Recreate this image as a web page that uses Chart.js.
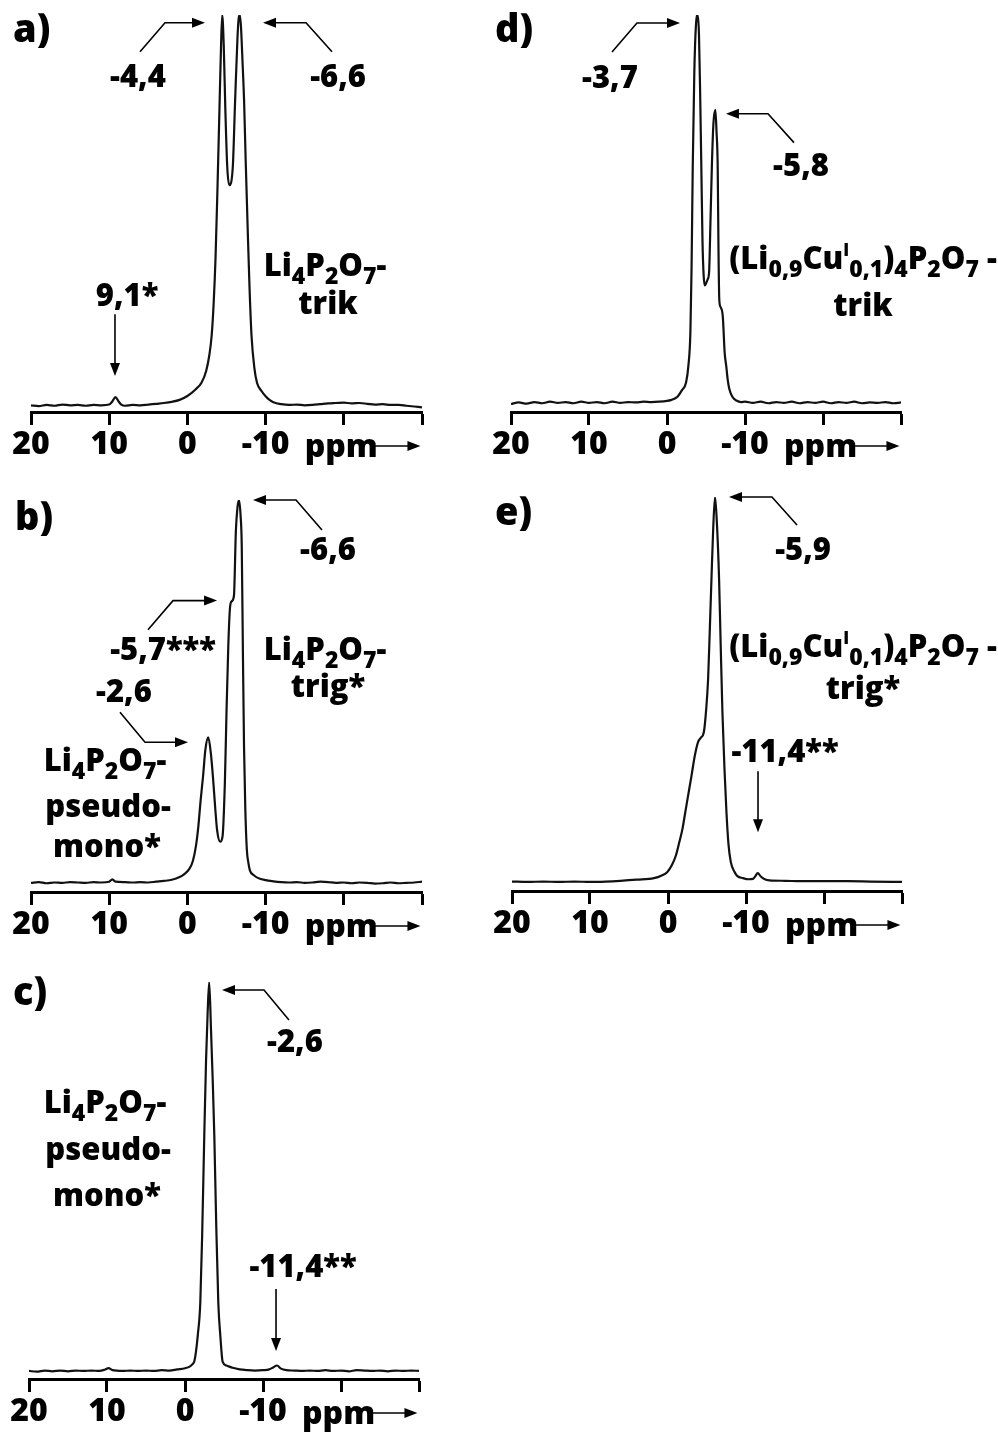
<!DOCTYPE html>
<html><head><meta charset="utf-8">
<script src="https://cdn.jsdelivr.net/npm/chart.js@4/dist/chart.umd.min.js"></script>
<style>
html,body{margin:0;padding:0;background:#fff;}
body{width:998px;height:1432px;position:relative;overflow:hidden;}
.p{position:absolute;}
</style></head><body>
<div class="p" style="left:0;top:0;"><canvas id="ca" width="490" height="475"></canvas></div>
<div class="p" style="left:490px;top:0;"><canvas id="cd" width="508" height="475"></canvas></div>
<div class="p" style="left:0;top:475px;"><canvas id="cb" width="490" height="475"></canvas></div>
<div class="p" style="left:490px;top:475px;"><canvas id="ce" width="508" height="475"></canvas></div>
<div class="p" style="left:0;top:950px;"><canvas id="cc" width="490" height="482"></canvas></div>
<script>
// ---------- DATA (chemical shift in ppm, relative intensity) ----------
const tickValues = [20, 10, 0, -10, -20, -30];
const tickLabels = ['20', '10', '0', '-10', '', ''];

const ppmA = [20,19,18,17,16,15,14,13,12,11,10,9.6,9.2,8.8,8.4,8,7,6,5,4,3,2,1,0,-1,-1.8,-2.4,-2.8,-3.1,-3.35,-3.6,-3.85,-4.1,-4.3,-4.45,-4.65,-4.85,-5.1,-5.36,-5.8,-6.1,-6.4,-6.55,-6.7,-6.85,-7.05,-7.25,-7.45,-7.7,-7.95,-8.2,-8.55,-8.9,-9.5,-10,-10.5,-11,-12,-13,-14,-15,-16,-17,-18,-19,-20,-21,-22,-23,-24,-25,-26,-27,-28,-29,-30];
const intA = [0.2,0,0.3,0.1,0.4,0.2,0.3,0.1,0.3,0.2,0.4,1.2,2.3,1.2,0.3,0.1,0.3,0.2,0.4,0.6,0.8,1.1,1.6,2.6,4.2,6,9,13,18,26,38,56,76,92,100,92,76,61,56.5,61,78,94,99,100,97,88,78,63,46,30,18,10,6,3.8,2.5,1.6,1.0,0.5,0.3,0.4,0.2,0.3,0.5,0.7,0.8,0.9,0.7,0.8,0.6,0.4,0.5,0.3,0.3,0.1,-0.1,-0.3];

const ppmB = [20,19,18,17,16,15,14,13,12,11,10,9.6,9.2,8,7,6,5,4,3,2,1,0.4,-0.2,-0.7,-1.1,-1.4,-1.7,-2.0,-2.3,-2.67,-3.0,-3.3,-3.55,-3.8,-4.2,-4.5,-4.8,-5.0,-5.23,-5.45,-5.65,-5.95,-6.2,-6.4,-6.6,-6.8,-6.95,-7.1,-7.24,-7.4,-7.6,-7.8,-8.0,-8.5,-9,-10,-11,-12,-13,-14,-15,-16,-17,-18,-19,-20,-21,-22,-23,-24,-25,-26,-27,-28,-29,-30];
const intB = [0.3,0.5,0.2,0.4,0.3,0.5,0.4,0.3,0.5,0.4,0.6,1.2,0.6,0.5,0.4,0.5,0.4,0.6,0.8,1.1,1.8,2.6,3.8,6,10,15,22,28,35,38.2,34,27,20,14,11,12.5,27,44.7,62,72,73.6,75,92,98,100,96,88,60,36,20,9,5.5,3.5,2.3,1.6,1.0,0.7,0.5,0.4,0.5,0.3,0.4,0.6,0.5,0.3,0.4,0.2,0.4,0.3,0.1,0.2,0.4,0.2,0.3,0.4,0.6];

const ppmC = [20,19,18,17,16,15,14,13,12,11,10.3,9.8,9.3,8,7,6,5,4,3,2,1,0,-0.6,-1.0,-1.2,-1.4,-1.63,-1.96,-2.2,-2.47,-2.7,-2.9,-3.1,-3.33,-3.55,-3.76,-4.0,-4.27,-4.53,-4.83,-5.3,-6.1,-7,-8,-9,-10,-10.8,-11.3,-11.8,-12.3,-13,-14,-15,-16,-17,-18,-19,-20,-21,-22,-23,-24,-25,-26,-27,-28,-29,-30];
const intC = [0.2,0,0.3,0.1,0.3,0.1,0.3,0.2,0.3,0.2,0.5,0.9,0.4,0.2,0.3,0.2,0.3,0.2,0.4,0.3,0.6,0.9,1.3,2.0,2.7,5,9.2,17.7,35,60.5,80,92,100,88,75,60.5,38,17.7,9.2,2.5,1.6,1.0,0.6,0.4,0.3,0.4,0.6,1.1,1.6,0.8,0.4,0.3,0.2,0.3,0.2,0.4,0.2,0.3,0.1,0.4,0.3,0.2,0.3,0.1,0.3,0.2,0.3,0.2];

const ppmD = [20,19,18,17,16,15,14,13,12,11,10,9,8,7,6,5,4,3,2,1,0,-0.5,-1.0,-1.4,-1.9,-2.45,-2.75,-3.0,-3.15,-3.3,-3.5,-3.7,-3.94,-4.1,-4.25,-4.4,-4.55,-4.7,-4.85,-5.0,-5.2,-5.4,-5.55,-5.75,-5.95,-6.2,-6.35,-6.5,-6.6,-6.7,-6.85,-7.15,-7.4,-7.6,-7.8,-8.0,-8.4,-8.9,-9.5,-10,-11,-12,-13,-14,-15,-16,-17,-18,-19,-20,-21,-22,-23,-24,-25,-26,-27,-28,-29,-30];
const intD = [0,0.4,0.1,0.5,0.2,0.6,0.3,0.5,0.2,0.6,0.3,0.5,0.2,0.6,0.3,0.5,0.4,0.6,0.5,0.6,0.8,1.0,1.4,2.0,3.5,5.6,10,18.5,35,61,85,97,100,95,80,61,42,33,30.5,31,32,34,45,61,72,75.6,70,61,40,27,25,22.6,13,9.7,6,3.8,1.8,0.9,0.5,0.6,0.3,0.6,0.2,0.5,0.3,0.6,0.2,0.5,0.3,0.6,0.2,0.5,0.3,0.6,0.2,0.4,0.3,0.5,0.2,0.4];

const ppmE = [20,18,16,14,12,10,8,6.1,4,1.8,0.8,0.08,-0.5,-1.0,-1.4,-1.85,-2.2,-2.5,-3.0,-3.43,-3.85,-4.2,-4.6,-4.9,-5.14,-5.35,-5.57,-5.8,-6.03,-6.25,-6.55,-6.75,-6.98,-7.25,-7.5,-7.75,-8.05,-8.5,-8.9,-9.6,-10.3,-10.9,-11.2,-11.5,-11.9,-12.4,-13,-15,-17,-20,-23,-26,-30];
const intE = [0.2,0.1,0.2,0.1,0.2,0.1,0.2,0.4,0.7,1.1,1.8,2.7,4.5,6.9,10,13.8,18,21.6,27.5,32.8,36.4,37.5,39,45,52.7,65,78.6,92,100,94,78.6,62,44,29,18,10,5.3,2.8,1.6,1.1,0.8,0.9,1.6,2.4,1.5,0.8,0.5,0.4,0.3,0.3,0.3,0.2,0.1];

// ---------- LABELS (positions in data units: ppm, intensity) ----------
const LI4 = [['Li'],['4','sub'],['P'],['2','sub'],['O'],['7','sub'],['-']];
const CU = [['(Li'],['0,9','sub'],['Cu'],['I','sup'],['0,1','sub'],[')'],['4','sub'],['P'],['2','sub'],['O'],['7','sub'],[' -']];

const annA = [
  {t:'text', x:22.3, y:93.1, parts:[['a)']], size:38, align:'left'},
  {t:'text', x:6.32, y:81.6, parts:[['-4,4']]},
  {t:'arrow', pts:[[6.06,90.6],[2.86,98],[-2.25,98]]},
  {t:'text', x:-19.26, y:81.6, parts:[['-6,6']]},
  {t:'arrow', pts:[[-18.49,90.6],[-15.17,98],[-9.67,98]]},
  {t:'text', x:-17.6, y:33.2, parts:LI4},
  {t:'text', x:-17.98, y:23.5, parts:[['trik']]},
  {t:'text', x:7.72, y:25.5, parts:[['9,1*']]},
  {t:'arrow', pts:[[9.26,23.5],[9.26,7.7]]}
];
const annD = [
  {t:'text', x:22.05, y:93.1, parts:[['d)']], size:38, align:'left'},
  {t:'text', x:7.31, y:81.3, parts:[['-3,7']]},
  {t:'arrow', pts:[[7.05,90.5],[3.85,97.95],[-1.67,97.95]]},
  {t:'text', x:-17.18, y:58.5, parts:[['-5,8']]},
  {t:'arrow', pts:[[-16.28,67.2],[-12.95,74.6],[-7.56,74.6]]},
  {t:'text', x:-25.13, y:34.6, parts:CU},
  {t:'text', x:-25.13, y:22.6, parts:[['trik']]}
];
const annB = [
  {t:'text', x:22.05, y:92.2, parts:[['b)']], size:38, align:'left'},
  {t:'text', x:-17.98, y:84.4, parts:[['-6,6']]},
  {t:'arrow', pts:[[-17.21,92.2],[-13.89,100],[-8.39,100]]},
  {t:'text', x:3.12, y:58.4, parts:[['-5,7***']]},
  {t:'arrow', pts:[[5.04,66.2],[1.84,73.8],[-3.79,73.8]]},
  {t:'text', x:8.11, y:47.3, parts:[['-2,6']]},
  {t:'arrow', pts:[[8.62,44.7],[5.42,36.9],[-0.08,36.9]]},
  {t:'text', x:-17.6, y:58.4, parts:LI4},
  {t:'text', x:-17.98, y:48.8, parts:[['trig*']]},
  {t:'text', x:10.54, y:29.35, parts:LI4},
  {t:'text', x:10.15, y:17.4, parts:[['pseudo-']]},
  {t:'text', x:10.28, y:7.0, parts:[['mono*']]}
];
const annE = [
  {t:'text', x:22.18, y:92.75, parts:[['e)']], size:38, align:'left'},
  {t:'text', x:-17.31, y:83.7, parts:[['-5,9']]},
  {t:'arrow', pts:[[-16.54,92.75],[-13.33,100],[-7.82,100]]},
  {t:'text', x:-15.0, y:31.1, parts:[['-11,4**']]},
  {t:'arrow', pts:[[-11.54,28.8],[-11.54,13.0]]},
  {t:'text', x:-25.0, y:58.6, parts:CU},
  {t:'text', x:-25.0, y:47.45, parts:[['trig*']]}
];
const annC = [
  {t:'text', x:22.05, y:94.1, parts:[['c)']], size:38, align:'left'},
  {t:'text', x:-14.1, y:82.1, parts:[['-2,6']]},
  {t:'arrow', pts:[[-13.33,90.27],[-10.13,97.95],[-4.74,97.95]]},
  {t:'text', x:10.26, y:66.5, parts:LI4},
  {t:'text', x:9.87, y:54.4, parts:[['pseudo-']]},
  {t:'text', x:10.0, y:42.4, parts:[['mono*']]},
  {t:'text', x:-15.13, y:24.2, parts:[['-11,4**']]},
  {t:'arrow', pts:[[-11.67,21.2],[-11.67,5.3]]}
];

// ---------- DRAWING ----------
const FONT = "'Open Sans', 'DejaVu Sans', sans-serif";
const W8 = '800';
const TXT = 31;

function drawRich(ctx, parts, x, y, size, align) {
  const segs = parts.map(p => ({t:p[0], k:p[1]||'', s: p[1]==='sub' ? size*0.74 : p[1]==='sup' ? size*0.55 : size}));
  let w = 0;
  segs.forEach(s => { ctx.font = `${W8} ${s.s}px ${FONT}`; s.w = ctx.measureText(s.t).width; w += s.w; });
  let cx = align === 'left' ? x : x - w/2;
  ctx.textAlign = 'left'; ctx.textBaseline = 'alphabetic'; ctx.fillStyle = '#000';
  segs.forEach(s => {
    ctx.font = `${W8} ${s.s}px ${FONT}`;
    const dy = s.k === 'sub' ? size*0.26 : s.k === 'sup' ? -size*0.42 : 0;
    ctx.fillText(s.t, cx, y + dy);
    cx += s.w;
  });
}
function drawArrow(ctx, pts, lw) {
  const n = pts.length, L = 13, W = 5;
  const [x1,y1] = pts[n-2], [x2,y2] = pts[n-1];
  const a = Math.atan2(y2-y1, x2-x1);
  ctx.strokeStyle = '#000'; ctx.fillStyle = '#000'; ctx.lineWidth = lw;
  ctx.beginPath(); ctx.moveTo(pts[0][0], pts[0][1]);
  for (let i = 1; i < n-1; i++) ctx.lineTo(pts[i][0], pts[i][1]);
  ctx.lineTo(x2 - (L-2)*Math.cos(a), y2 - (L-2)*Math.sin(a));
  ctx.stroke();
  ctx.beginPath(); ctx.moveTo(x2, y2);
  ctx.lineTo(x2 - L*Math.cos(a) + W*Math.sin(a), y2 - L*Math.sin(a) - W*Math.cos(a));
  ctx.lineTo(x2 - L*Math.cos(a) - W*Math.sin(a), y2 - L*Math.sin(a) + W*Math.cos(a));
  ctx.closePath(); ctx.fill();
}

const annotPlugin = {
  id: 'annot',
  afterDraw(chart, args, opts) {
    const ctx = chart.ctx, xs = chart.scales.x, ys = chart.scales.y;
    ctx.save();
    (opts.items || []).forEach(it => {
      if (it.t === 'text') {
        drawRich(ctx, it.parts, xs.getPixelForValue(it.x), ys.getPixelForValue(it.y), it.size || TXT, it.align || 'center');
      } else if (it.t === 'arrow') {
        drawArrow(ctx, it.pts.map(p => [xs.getPixelForValue(p[0]), ys.getPixelForValue(p[1])]), 1.6);
      }
    });
    // axis unit label "ppm" with arrow
    const base = xs.top + 45;
    ctx.font = `${W8} 32px ${FONT}`; ctx.textAlign = 'left'; ctx.textBaseline = 'alphabetic'; ctx.fillStyle = '#000';
    ctx.fillText('ppm', xs.getPixelForValue(-15.0), base);
    const ay = xs.top + 34;
    drawArrow(ctx, [[xs.getPixelForValue(-24.0), ay], [xs.getPixelForValue(-29.8), ay]], 1.6);
    ctx.restore();
  }
};

function makeChart(id, ppm, inten, vmin, pad, items) {
  const data = ppm.map((x, i) => ({x: x, y: inten[i]}));
  return new Chart(document.getElementById(id), {
    type: 'line',
    data: { datasets: [{ data: data, borderColor: '#111', borderWidth: 2.2, pointRadius: 0, fill: false, cubicInterpolationMode: 'monotone' }] },
    options: {
      responsive: false, animation: false, events: [],
      layout: { padding: pad },
      plugins: { legend: {display: false}, tooltip: {enabled: false}, annot: {items: items} },
      scales: {
        x: {
          type: 'linear', reverse: true, min: -30, max: 20,
          afterBuildTicks: s => { s.ticks = tickValues.map(v => ({value: v})); },
          afterFit: s => { s.height = 50; },
          ticks: { callback: (v, i) => tickLabels[i], autoSkip: false, maxRotation: 0, padding: 1,
                   color: '#000', font: {family: FONT, weight: W8, size: 32} },
          grid: { display: true, drawOnChartArea: false, drawTicks: true, tickLength: 13, tickWidth: 3, tickColor: '#000' },
          border: { display: true, color: '#000', width: 3 }
        },
        y: { display: false, min: vmin, max: 100 }
      }
    },
    plugins: [annotPlugin]
  });
}

makeChart('ca', ppmA, intA, -1.5,  {left:31, right:68, top:15, bottom:13}, annA);
makeChart('cd', ppmD, intD, -2.05, {left:21, right:97, top:15, bottom:13}, annD);
makeChart('cb', ppmB, intB, -2.08, {left:31, right:68, top:25, bottom:8}, annB);
makeChart('ce', ppmE, intE, -2.25, {left:22, right:96, top:22, bottom:9}, annE);
makeChart('cc', ppmC, intC, -1.87, {left:29, right:71, top:32, bottom:3}, annC);
</script>
</body></html>
